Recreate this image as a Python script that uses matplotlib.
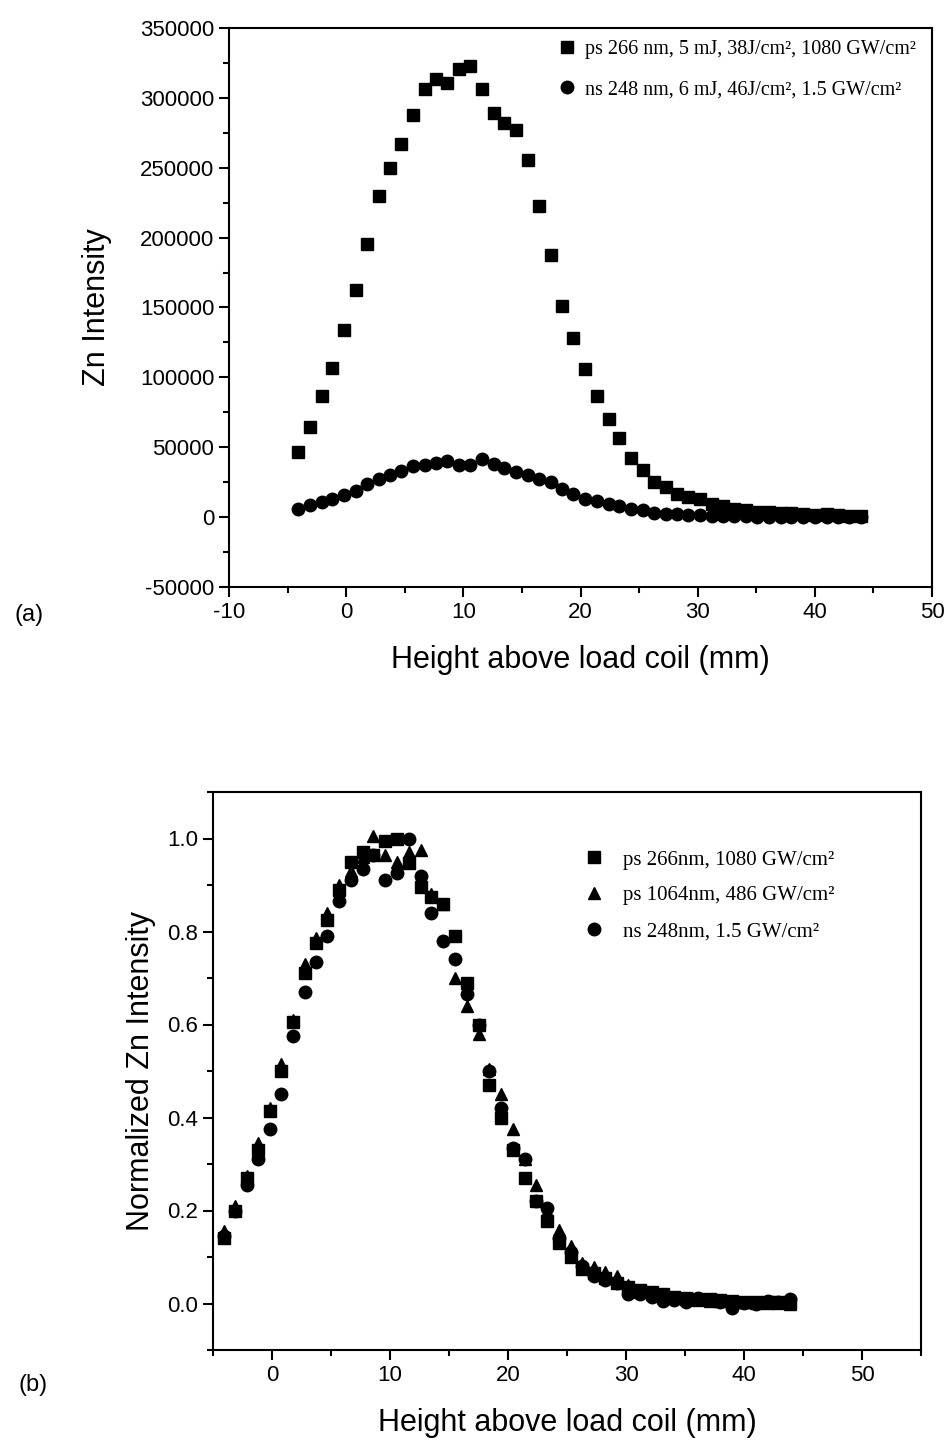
import matplotlib
matplotlib.use("Agg")
import matplotlib.pyplot as plt
from matplotlib.ticker import MultipleLocator

plt.rcParams["axes.unicode_minus"] = False

SANS = ["Liberation Sans Narrow", "Liberation Sans", "DejaVu Sans"]
SERIF = ["Liberation Serif", "DejaVu Serif"]

# Height above load coil (mm), shared by all series
height = [-4.1, -3.1, -2.1, -1.2, -0.2, 0.8, 1.8, 2.8, 3.7, 4.7,
          5.7, 6.7, 7.7, 8.6, 9.6, 10.6, 11.6, 12.6, 13.5, 14.5,
          15.5, 16.5, 17.5, 18.4, 19.4, 20.4, 21.4, 22.4, 23.3, 24.3,
          25.3, 26.3, 27.3, 28.2, 29.2, 30.2, 31.2, 32.2, 33.1, 34.1,
          35.1, 36.1, 37.1, 38.0, 39.0, 40.0, 41.0, 42.0, 42.9, 43.9]

# (a) raw Zn intensity
ps266_raw = [46600, 64500, 86700, 107000, 133700, 162300, 195300, 229600, 249900, 266700,
             287500, 306700, 313400, 311000, 321000, 323000, 306000, 289200, 282000, 277200,
             255200, 222900, 187700, 151000, 128200, 106300, 86700, 70400, 56600, 42300,
             33400, 25100, 21500, 16700, 14300, 12700, 9500, 7900, 6000, 4800,
             4000, 3500, 3000, 2600, 2200, 1800, 2400, 1500, 1000, 800]
ns248_raw = [5500, 8800, 10800, 13100, 16000, 18400, 23900, 27500, 30300, 33000,
             36500, 37500, 38900, 39900, 37000, 37500, 41300, 38200, 35100, 32200,
             29900, 27500, 25100, 20300, 16700, 13100, 11500, 9500, 7900, 5500,
             4800, 3100, 2500, 1900, 1700, 1200, 900, 700, 600, 500,
             400, 400, 300, 300, 200, 200, 100, 100, 0, 0]

# (b) normalized Zn intensity
ps266_norm = [0.14, 0.20, 0.27, 0.33, 0.415, 0.50, 0.605, 0.71, 0.775, 0.825,
              0.89, 0.95, 0.97, 0.965, 0.995, 1.0, 0.948, 0.895, 0.875, 0.86,
              0.79, 0.69, 0.60, 0.47, 0.40, 0.33, 0.27, 0.22, 0.178, 0.13,
              0.10, 0.074, 0.065, 0.055, 0.045, 0.035, 0.03, 0.025, 0.02, 0.015,
              0.012, 0.01, 0.01, 0.008, 0.005, 0.004, 0.004, 0.003, 0.003, 0.002]
ps1064_norm = [0.155, 0.21, 0.275, 0.345, 0.42, 0.515, 0.61, 0.73, 0.785, 0.84,
               0.90, 0.93, 0.96, 1.005, 0.965, 0.95, 0.97, 0.975, 0.88, 0.86,
               0.70, 0.64, 0.58, 0.505, 0.45, 0.375, 0.31, 0.255, 0.20, 0.157,
               0.124, 0.088, 0.078, 0.067, 0.06, 0.04, 0.025, 0.02, 0.015, 0.012,
               0.01, 0.008, 0.006, 0.005, 0.004, 0.003, 0.002, 0.002, 0.001, 0.0]
ns248_norm = [0.145, 0.20, 0.255, 0.31, 0.375, 0.45, 0.575, 0.67, 0.735, 0.79,
              0.865, 0.91, 0.935, 0.965, 0.91, 0.925, 1.0, 0.92, 0.84, 0.78,
              0.74, 0.665, 0.60, 0.50, 0.42, 0.335, 0.31, 0.22, 0.205, 0.14,
              0.11, 0.08, 0.06, 0.05, 0.045, 0.02, 0.02, 0.015, 0.005, 0.008,
              0.003, 0.012, 0.008, 0.003, -0.01, 0.002, 0.0, 0.006, 0.004, 0.01]

labels_a = ["ps 266 nm, 5 mJ, 38J/cm², 1080 GW/cm²",
            "ns 248 nm, 6 mJ, 46J/cm², 1.5 GW/cm²"]
labels_b = ["ps 266nm, 1080 GW/cm²",
            "ps 1064nm, 486 GW/cm²",
            "ns 248nm, 1.5 GW/cm²"]


def style_axes(ax):
    for sp in ax.spines.values():
        sp.set_linewidth(1.5)
    ax.tick_params(which="both", direction="out", top=False, right=False, width=1.5)
    ax.tick_params(which="major", length=7, labelsize=16)
    ax.tick_params(which="minor", length=4)
    for lab in ax.get_xticklabels() + ax.get_yticklabels():
        lab.set_family(SANS)


fig = plt.figure(figsize=(9.49, 14.41), dpi=100)
W, H = 949, 1441

# panel (a)
ax1 = fig.add_axes([229 / W, 1 - 587 / H, (932 - 229) / W, (587 - 28) / H])
ax1.plot(height, ps266_raw, "s", color="black", ms=8.5, label=labels_a[0])
ax1.plot(height, ns248_raw, "o", color="black", ms=9, label=labels_a[1])
ax1.set_xlim(-10, 50)
ax1.set_ylim(-50000, 350000)
ax1.xaxis.set_major_locator(MultipleLocator(10))
ax1.xaxis.set_minor_locator(MultipleLocator(5))
ax1.yaxis.set_major_locator(MultipleLocator(50000))
ax1.yaxis.set_minor_locator(MultipleLocator(25000))
style_axes(ax1)
ax1.set_xlabel("Height above load coil (mm)", fontsize=22, family=SANS, labelpad=16)
ax1.set_ylabel("Zn Intensity", fontsize=22, family=SANS, labelpad=20)
ax1.legend(loc="upper left", bbox_to_anchor=(557 / W, 1 - 40 / H),
           bbox_transform=fig.transFigure, frameon=False, handlelength=1.0,
           handletextpad=0.4, labelspacing=1.05, borderpad=0, borderaxespad=0,
           prop={"family": SERIF, "size": 14.5})
fig.text(15 / W, 1 - 615 / H, "(a)", fontsize=17, family=SANS, va="center")

# panel (b)
ax2 = fig.add_axes([213 / W, 1 - 1350 / H, (921 - 213) / W, (1350 - 792) / H])
ax2.plot(height, ps266_norm, "s", color="black", ms=8, label=labels_b[0])
ax2.plot(height, ps1064_norm, "^", color="black", ms=9, label=labels_b[1])
ax2.plot(height, ns248_norm, "o", color="black", ms=9, label=labels_b[2])
ax2.set_xlim(-5, 55)
ax2.set_ylim(-0.1, 1.1)
ax2.xaxis.set_major_locator(MultipleLocator(10))
ax2.xaxis.set_minor_locator(MultipleLocator(5))
ax2.yaxis.set_major_locator(MultipleLocator(0.2))
ax2.yaxis.set_minor_locator(MultipleLocator(0.1))
ax2.yaxis.set_major_formatter(plt.FormatStrFormatter("%.1f"))
style_axes(ax2)
ax2.set_xlabel("Height above load coil (mm)", fontsize=22, family=SANS, labelpad=16)
ax2.set_ylabel("Normalized Zn Intensity", fontsize=22, family=SANS, labelpad=8)
ax2.legend(loc="upper left", bbox_to_anchor=(584 / W, 1 - 850 / H),
           bbox_transform=fig.transFigure, frameon=False, handlelength=1.0,
           handletextpad=0.85, labelspacing=0.78, borderpad=0, borderaxespad=0,
           prop={"family": SERIF, "size": 15})
fig.text(18 / W, 1 - 1385 / H, "(b)", fontsize=17, family=SANS, va="center")

fig.savefig("out.png", dpi=100)
